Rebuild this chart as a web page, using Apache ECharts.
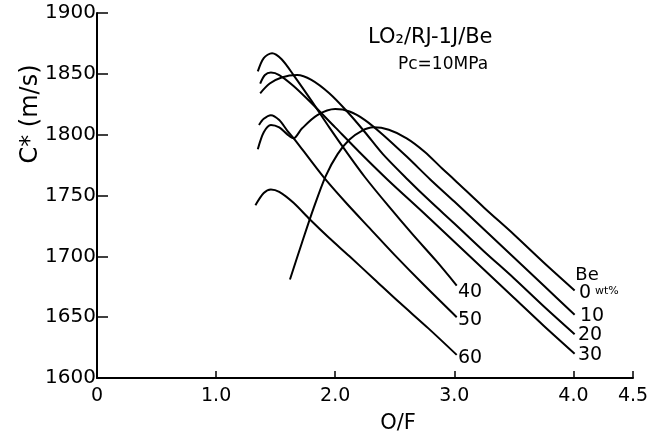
<!DOCTYPE html>
<html>
<head>
<meta charset="utf-8">
<script src="https://cdn.jsdelivr.net/npm/echarts@6/dist/echarts.min.js"></script>
<style>
  html, body { margin: 0; padding: 0; background: #fff; }
  #chart { width: 668px; height: 442px; }
</style>
</head>
<body>
<div id="chart"></div>
<script>
// tick labels
var xTicks = [0, 1, 2, 3, 4, 4.5];
var yTicks = [1600, 1650, 1700, 1750, 1800, 1850, 1900];

// Be wt% of each curve
var beNames = ['0', '10', '20', '30', '40', '50', '60'];

// c* (m/s) against O/F
var be0 = [[1.62,1681],[1.72,1711],[1.82,1740],[1.92,1766],[2.02,1784],[2.12,1796],[2.22,1803],[2.32,1806],[2.45,1804],[2.6,1797],[2.75,1786],[2.9,1772],[3.0,1763],[3.25,1740],[3.5,1718],[3.75,1695],[4.01,1672]];
var be10 = [[1.35,1788],[1.40,1802],[1.46,1808],[1.53,1806],[1.6,1800],[1.65,1797],[1.72,1805],[1.85,1816],[2.0,1821],[2.12,1819],[2.25,1812],[2.4,1800],[2.6,1782],[2.8,1763],[3.0,1745],[3.25,1722],[3.5,1699],[3.75,1676],[4.01,1652]];
var be20 = [[1.37,1834],[1.45,1842],[1.55,1847],[1.68,1849],[1.8,1845],[1.95,1834],[2.1,1819],[2.25,1802],[2.4,1784],[2.61,1763],[2.8,1745],[3.0,1727],[3.25,1704],[3.5,1682],[3.75,1659],[4.01,1636]];
var be30 = [[1.37,1842],[1.41,1849],[1.46,1851],[1.53,1849],[1.65,1840],[1.8,1826],[2.0,1806],[2.2,1786],[2.44,1763],[2.75,1735],[3.0,1712],[3.25,1689],[3.5,1666],[3.75,1643],[4.01,1620]];
var be40 = [[1.35,1852],[1.40,1863],[1.47,1867],[1.55,1862],[1.65,1849],[1.8,1828],[1.95,1806],[2.1,1785],[2.25,1765],[2.45,1741],[2.65,1718],[2.85,1696],[3.02,1676]];
var be50 = [[1.36,1808],[1.40,1813],[1.46,1816],[1.53,1812],[1.6,1803],[1.66,1796],[1.8,1778],[1.92,1763],[2.1,1743],[2.3,1722],[2.5,1701],[2.75,1676],[3.02,1650]];
var be60 = [[1.33,1742],[1.40,1752],[1.46,1755],[1.53,1753],[1.65,1744],[1.79,1730],[1.95,1715],[2.12,1700],[2.33,1681],[2.54,1662],[2.78,1641],[3.02,1619]];

var curves = [be0, be10, be20, be30, be40, be50, be60];

var font = 'DejaVu Sans';

var series = [];
for (var i = 0; i < curves.length; i++) {
  series.push({
    name: beNames[i] + ' wt%',
    type: 'line',
    data: curves[i],
    smooth: 0.3,
    symbol: 'none',
    silent: true,
    lineStyle: { color: '#000', width: 2 }
  });
}

function txt(x, y, s, size, align) {
  return {
    type: 'text', x: x, y: y,
    style: { text: s, fill: '#000', font: size + 'px "' + font + '"', textAlign: align || 'center', textVerticalAlign: 'middle' }
  };
}

var option = {
  backgroundColor: '#fff',
  animation: false,
  grid: { left: 97, right: 35, top: 13, bottom: 64 },
  xAxis: {
    type: 'value',
    min: 0, max: 4.5,
    splitLine: { show: false },
    axisLine: { lineStyle: { color: '#000', width: 2 } },
    axisTick: { inside: true, length: 7, customValues: xTicks, lineStyle: { color: '#000', width: 1.5 } },
    axisLabel: {
      customValues: xTicks, margin: 9, color: '#000', fontSize: 19, fontFamily: font,
      formatter: function (v) { return v === 0 ? '0' : v.toFixed(1); }
    }
  },
  yAxis: {
    type: 'value',
    min: yTicks[0], max: yTicks[yTicks.length - 1], interval: 50,
    splitLine: { show: false },
    axisLine: { lineStyle: { color: '#000', width: 2 } },
    axisTick: { inside: true, length: 11, lineStyle: { color: '#000', width: 1.5 } },
    axisLabel: { margin: 1, color: '#000', fontSize: 20, fontFamily: font, formatter: function (v) { return String(v); } }
  },
  graphic: [
    txt(368, 38, 'LO\u2082/RJ-1J/Be', 21, 'left'),
    txt(398, 65, 'Pc=10MPa', 17, 'left'),
    txt(398, 424, 'O/F', 21),
    {
      type: 'text', x: 31, y: 114, rotation: Math.PI / 2,
      style: { text: 'C* (m/s)', fill: '#000', font: '24px "' + font + '"', textAlign: 'center', textVerticalAlign: 'middle' }
    },
    txt(470, 292, '40', 19),
    txt(470, 320, '50', 19),
    txt(470, 358, '60', 19),
    txt(587, 275, 'Be', 18),
    txt(585, 293, '0', 19),
    txt(595, 291, 'wt%', 11, 'left'),
    txt(592, 316, '10', 19),
    txt(590, 335, '20', 19),
    txt(590, 355, '30', 19)
  ],
  series: series
};

var chart = echarts.init(document.getElementById('chart'));
chart.setOption(option);
</script>
</body>
</html>
